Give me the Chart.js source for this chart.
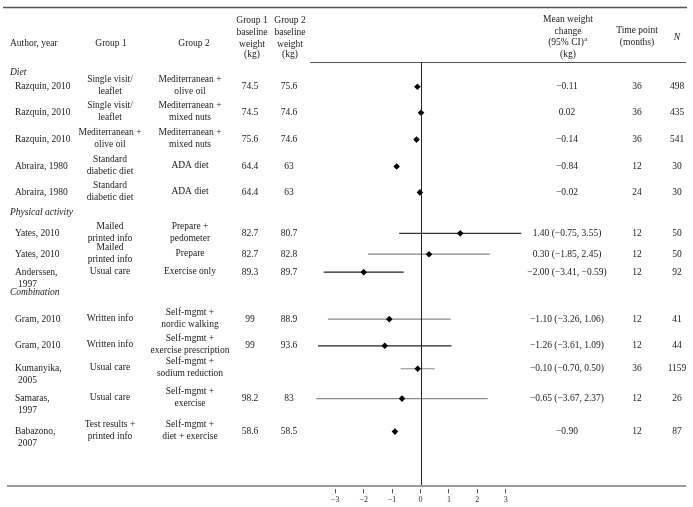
<!DOCTYPE html>
<html>
<head>
<meta charset="utf-8">
<script src="https://cdn.jsdelivr.net/npm/chart.js@4.4.1/dist/chart.umd.min.js"></script>
<style>
  html, body { margin: 0; padding: 0; background: #fff; }
  #chart { display: block; }
</style>
</head>
<body>
<canvas id="chart" width="693" height="507"></canvas>
<script>
// Dữ liệu bảng / forest plot
const sections = ['Diet', 'Physical activity', 'Combination'];
const sectionSlot = [0.49, 5.77, 8.79];

const authors = ['Razquin, 2010', 'Razquin, 2010', 'Razquin, 2010', 'Abraira, 1980', 'Abraira, 1980',
  'Yates, 2010', 'Yates, 2010', 'Anderssen,\n1997', 'Gram, 2010', 'Gram, 2010',
  'Kumanyika,\n2005', 'Samaras,\n1997', 'Babazono,\n2007'];
const group1 = ['Single visit/\nleaflet', 'Single visit/\nleaflet', 'Mediterranean +\nolive oil',
  'Standard\ndiabetic diet', 'Standard\ndiabetic diet', 'Mailed\nprinted info', 'Mailed\nprinted info',
  'Usual care', 'Written info', 'Written info', 'Usual care', 'Usual care', 'Test results +\nprinted info'];
const group2 = ['Mediterranean +\nolive oil', 'Mediterranean +\nmixed nuts', 'Mediterranean +\nmixed nuts',
  'ADA diet', 'ADA diet', 'Prepare +\npedometer', 'Prepare', 'Exercise only',
  'Self-mgmt +\nnordic walking', 'Self-mgmt +\nexercise prescription', 'Self-mgmt +\nsodium reduction',
  'Self-mgmt +\nexercise', 'Self-mgmt +\ndiet + exercise'];
const base1 = [74.5, 74.5, 75.6, 64.4, 64.4, 82.7, 82.7, 89.3, 99, 99, null, 98.2, 58.6];
const base2 = [75.6, 74.6, 74.6, 63, 63, 80.7, 82.8, 89.7, 88.9, 93.6, null, 83, 58.5];
const meanChange = [-0.11, 0.02, -0.14, -0.84, -0.02, 1.40, 0.30, -2.00, -1.10, -1.26, -0.10, -0.65, -0.90];
const ciLow = [null, null, null, null, null, -0.75, -1.85, -3.41, -3.26, -3.61, -0.70, -3.67, null];
const ciHigh = [null, null, null, null, null, 3.55, 2.45, -0.59, 1.06, 1.09, 0.50, 2.37, null];
const timePoint = [36, 36, 36, 12, 24, 12, 12, 12, 12, 12, 36, 12, 12];
const sampleN = [498, 435, 541, 30, 30, 50, 50, 92, 41, 44, 1159, 26, 87];
// vị trí hàng (đơn vị hàng trên trục y)
const rowSlot = [0.94, 1.92, 2.94, 3.96, 4.94, 6.49, 7.28, 7.96, 9.74, 10.75, 11.62, 12.75, 14.0];
const ciColor = ['#222', '#222', '#222', '#222', '#222', '#333', '#8a8a8a', '#222', '#8a8a8a', '#222', '#8a8a8a', '#8a8a8a', '#222'];
const xTicks = [-3, -2, -1, 0, 1, 2, 3];

const SERIF = '"Liberation Serif", "DejaVu Serif", serif';

function fmt(v) {
  const s = v.toFixed(2);
  return s.replace('-', '\u2212');
}

// Vẽ nhiều dòng chữ
function drawLines(ctx, text, x, y, align, mode, indent) {
  const lines = String(text).split('\n');
  const lh = 12;
  ctx.textAlign = align;
  let y0 = mode === 'top' ? y : y - (lines.length - 1) * lh / 2;
  lines.forEach((ln, i) => {
    ctx.fillText(ln, x + (i > 0 && indent ? indent : 0), y0 + i * lh);
  });
}

const tablePlugin = {
  id: 'tablePlugin',
  afterDraw(chart) {
    const ctx = chart.ctx;
    const xs = chart.scales.x;
    const ys = chart.scales.y;
    ctx.save();

    // đường kẻ bảng
    ctx.strokeStyle = '#555';
    ctx.lineWidth = 1.3;
    ctx.beginPath(); ctx.moveTo(3, 7.5); ctx.lineTo(687, 7.5); ctx.stroke();
    ctx.lineWidth = 1;
    ctx.beginPath(); ctx.moveTo(310, 62.5); ctx.lineTo(686, 62.5); ctx.stroke();
    ctx.strokeStyle = '#9a9a9a';
    ctx.lineWidth = 2;
    ctx.beginPath(); ctx.moveTo(7, 486); ctx.lineTo(686, 486); ctx.stroke();

    // đường 0
    const x0 = Math.round(xs.getPixelForValue(0)) + 0.5;
    ctx.strokeStyle = '#222';
    ctx.lineWidth = 1;
    ctx.beginPath(); ctx.moveTo(x0, 62); ctx.lineTo(x0, 485); ctx.stroke();

    ctx.fillStyle = '#1a1a1a';
    ctx.textBaseline = 'middle';
    ctx.font = '9.5px ' + SERIF;

    // tiêu đề
    drawLines(ctx, 'Author, year', 10, 43, 'left', 'top');
    drawLines(ctx, 'Group 1', 111, 43, 'center', 'top');
    drawLines(ctx, 'Group 2', 194, 43, 'center', 'top');
    drawLines(ctx, 'Group 1\nbaseline\nweight', 252, 20, 'center', 'top');
    drawLines(ctx, '(kg)', 252, 54, 'center', 'top');
    drawLines(ctx, 'Group 2\nbaseline\nweight', 290, 20, 'center', 'top');
    drawLines(ctx, '(kg)', 290, 54, 'center', 'top');
    drawLines(ctx, 'Mean weight\nchange', 568, 19, 'center', 'top');
    ctx.textAlign = 'center';
    const ciTxt = '(95% CI)';
    const w = ctx.measureText(ciTxt).width;
    ctx.fillText(ciTxt, 566, 42);
    ctx.font = '6.5px ' + SERIF;
    ctx.textAlign = 'left';
    ctx.fillText('a', 566 + w / 2 + 0.5, 39);
    ctx.font = '9.5px ' + SERIF;
    drawLines(ctx, '(kg)', 568, 54, 'center', 'top');
    drawLines(ctx, 'Time point\n(months)', 637, 30, 'center', 'top');
    ctx.font = 'italic 9.5px ' + SERIF;
    drawLines(ctx, 'N', 677, 37, 'center', 'top');

    // nhóm
    sections.forEach((s, i) => {
      drawLines(ctx, s, 10, ys.getPixelForValue(sectionSlot[i]) - 2, 'left', 'top');
    });

    ctx.font = '9.5px ' + SERIF;
    authors.forEach((a, i) => {
      const y = ys.getPixelForValue(rowSlot[i]);
      if (a.indexOf('\n') >= 0) {
        drawLines(ctx, a, 15, y, 'left', 'top', 3);
      } else {
        drawLines(ctx, a, 15, y, 'left', 'center');
      }
      drawLines(ctx, group1[i], 110, y - 1, 'center', 'center');
      drawLines(ctx, group2[i], 190, y - 1, 'center', 'center');
      if (base1[i] !== null) drawLines(ctx, String(base1[i]), 250, y, 'center', 'center');
      if (base2[i] !== null) drawLines(ctx, String(base2[i]), 289, y, 'center', 'center');
      let mt = fmt(meanChange[i]);
      if (ciLow[i] !== null) mt += ' (' + fmt(ciLow[i]) + ', ' + fmt(ciHigh[i]) + ')';
      drawLines(ctx, mt, 567, y, 'center', 'center');
      drawLines(ctx, String(timePoint[i]), 637, y, 'center', 'center');
      drawLines(ctx, String(sampleN[i]), 677, y, 'center', 'center');
    });

    ctx.restore();
  }
};

// dataset: khoảng tin cậy
const ciSets = [];
meanChange.forEach((m, i) => {
  if (ciLow[i] === null) return;
  ciSets.push({
    data: [{ x: ciLow[i], y: rowSlot[i] }, { x: ciHigh[i], y: rowSlot[i] }],
    showLine: true,
    borderColor: ciColor[i],
    borderWidth: 1.2,
    pointRadius: 0,
    order: 1
  });
});

const markerSet = {
  data: meanChange.map((m, i) => ({ x: m, y: rowSlot[i] })),
  pointStyle: 'rectRot',
  pointRadius: 3.3,
  backgroundColor: '#000',
  borderColor: '#000',
  borderWidth: 0,
  order: 0
};

const ctx = document.getElementById('chart').getContext('2d');
new Chart(ctx, {
  type: 'scatter',
  data: { datasets: [markerSet, ...ciSets] },
  options: {
    responsive: false,
    animation: false,
    devicePixelRatio: 1,
    layout: { padding: { left: 312.6, right: 164.6, top: 62, bottom: 0 } },
    plugins: { legend: { display: false }, tooltip: { enabled: false } },
    scales: {
      x: {
        type: 'linear',
        min: -3.8,
        max: 3.8,
        afterBuildTicks: (scale) => { scale.ticks = xTicks.map(v => ({ value: v })); },
        border: { display: false },
        grid: { drawOnChartArea: false, drawTicks: true, tickLength: 4, color: '#555', tickColor: '#555' },
        ticks: {
          autoSkip: false,
          maxRotation: 0,
          padding: 2,
          color: '#333',
          font: { family: SERIF, size: 8 },
          callback: (v) => v < 0 ? '\u2212' + Math.abs(v) : String(v)
        }
      },
      y: {
        type: 'linear',
        reverse: true,
        min: 0,
        max: 16.19,
        display: false
      }
    }
  },
  plugins: [tablePlugin]
});
</script>
</body>
</html>
